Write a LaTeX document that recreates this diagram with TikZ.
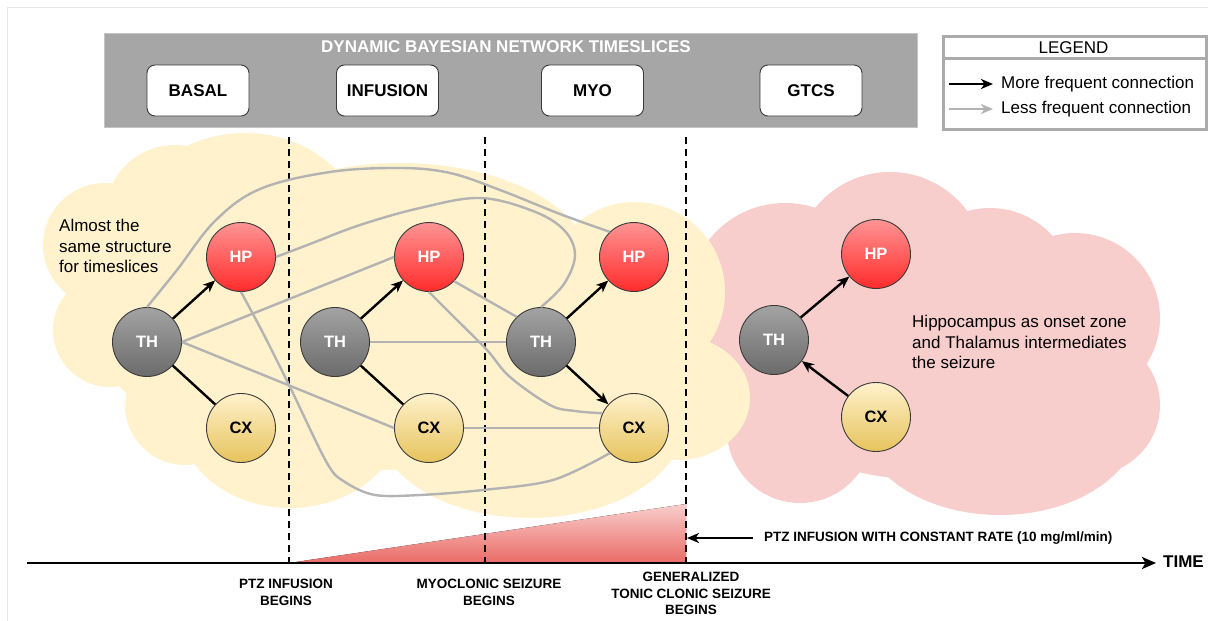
\documentclass[tikz,border=0pt]{standalone}
\usepackage{fontspec}
\setmainfont{Liberation Sans}
\usetikzlibrary{arrows.meta}

\definecolor{framegray}{HTML}{E6E6E6}
\definecolor{bannerfill}{HTML}{A6A6A6}
\definecolor{bannerline}{HTML}{C4C4C4}
\definecolor{legendline}{HTML}{ABABAB}
\definecolor{cloudyellow}{HTML}{FFF2CC}
\definecolor{cloudpink}{HTML}{F8CECC}
\definecolor{hptop}{HTML}{FF9494}
\definecolor{hpbot}{HTML}{FF2B2B}
\definecolor{thtop}{HTML}{A3A3A3}
\definecolor{thbot}{HTML}{6B6B6B}
\definecolor{cxtop}{HTML}{FFF2CC}
\definecolor{cxbot}{HTML}{E6C35C}
\definecolor{nodeline}{HTML}{3A3A3A}
\definecolor{weakgray}{HTML}{B3B3B3}
\definecolor{ramptop}{HTML}{F8CECC}
\definecolor{rampbot}{HTML}{EA6B66}

\begin{document}
\begin{tikzpicture}[x=1pt, y=-1pt,
  every node/.style={inner sep=0pt},
  brain/.style={circle, minimum size=69pt, inner sep=0pt, draw=nodeline, line width=0.9pt,
    font=\fontsize{16.5}{18}\selectfont\bfseries},
  hpnode/.style={brain, top color=hptop, bottom color=hpbot, text=white},
  thnode/.style={brain, top color=thtop, bottom color=thbot, text=white},
  cxnode/.style={brain, top color=cxtop, bottom color=cxbot, text=black},
  slicebox/.style={draw=nodeline, line width=0.9pt, fill=white, rounded corners=8pt,
    minimum width=102pt, minimum height=51pt, font=\fontsize{17}{20}\selectfont\bfseries},
  tip/.style={-{Stealth[length=12pt, width=10pt, inset=3.5pt]}},
  strongconn/.style={draw=black, line width=2.4pt},
  strongarrow/.style={strongconn, tip},
  weakconn/.style={draw=weakgray, line width=2.4pt, line join=round},
  phase/.style={draw=black, line width=2.5pt, dash pattern=on 7pt off 5pt},
  note/.style={align=left, font=\fontsize{17}{20.4}\selectfont},
  eventlbl/.style={align=center, font=\fontsize{13.5}{16.5}\selectfont\bfseries},
]
\useasboundingbox (0,0) rectangle (1208,621);

% page frame
\draw[framegray, line width=1pt] (1208,7) -- (7,7) -- (7,621);

% seizure-phase cloud (behind)
\fill[cloudpink]
  (785,300) circle[radius=97pt]
  (890,268) circle[radius=96pt]
  (990,292) circle[radius=84pt]
  (1075,318) circle[radius=85pt]
  (1090,405) circle[radius=70pt]
  (1000,420) ellipse[x radius=140pt, y radius=95pt]
  (800,430) circle[radius=73pt]
  (930,360) ellipse[x radius=200pt, y radius=120pt];

% pre-seizure cloud
\fill[cloudyellow]
  (105,245) circle[radius=62pt]
  (110,330) circle[radius=57pt]
  (185,405) circle[radius=60pt]
  (290,420) ellipse[x radius=110pt, y radius=88pt]
  (530,420) ellipse[x radius=155pt, y radius=98pt]
  (175,215) circle[radius=70pt]
  (245,228) ellipse[x radius=115pt, y radius=95pt]
  (400,265) ellipse[x radius=190pt, y radius=102pt]
  (635,292) circle[radius=90pt]
  (678,398) ellipse[x radius=72pt, y radius=62pt]
  (400,340) ellipse[x radius=300pt, y radius=130pt];

% timeslice banner
\node[fill=bannerfill, draw=bannerline, line width=1.2pt, minimum width=813pt,
      minimum height=94pt, anchor=north west] (banner) at (104,33) {};
\node[text=white, font=\fontsize{17}{20}\selectfont\bfseries] (bannertitle) at (506,47)
  {DYNAMIC BAYESIAN NETWORK TIMESLICES};
\node[slicebox] (basal) at (198,90.5) {BASAL};
\node[slicebox] (infusion) at (387.5,90.5) {INFUSION};
\node[slicebox] (myo) at (592.5,90.5) {MYO};
\node[slicebox] (gtcs) at (811,90.5) {GTCS};

% legend
\node[draw=legendline, line width=2.5pt, minimum width=263pt, minimum height=93pt,
      anchor=north west] (legend) at (942,35) {};
\draw[legendline, line width=2.5pt] (942,58.5) -- (1205,58.5);
\node[font=\fontsize{17}{20}\selectfont] (legendtitle) at (1073.5,47.5) {LEGEND};
\coordinate (lgmoreA) at (949,84);
\coordinate (lgmoreB) at (993,84);
\coordinate (lglessA) at (949,109);
\coordinate (lglessB) at (993,109);
\draw[strongarrow] (lgmoreA) -- (lgmoreB);
\draw[weakconn, tip] (lglessA) -- (lglessB);
\node[note, anchor=west] (lgmore) at (1001,84) {More frequent connection};
\node[note, anchor=west] (lgless) at (1001,109) {Less frequent connection};

% PTZ dose ramp
\fill[top color=ramptop, bottom color=rampbot] (289,563) -- (686,504) -- (686,563) -- cycle;

% phase boundaries
\coordinate (d1top) at (289,137); \coordinate (d1bot) at (289,563);
\coordinate (d2top) at (485,137); \coordinate (d2bot) at (485,563);
\coordinate (d3top) at (686,137); \coordinate (d3bot) at (686,563);
\draw[phase] (d1top) -- (d1bot);
\draw[phase] (d2top) -- (d2bot);
\draw[phase] (d3top) -- (d3bot);

% time axis
\coordinate (t0) at (27,563);
\coordinate (t1) at (1156,563);
\draw[line width=2.6pt, -{Stealth[length=14pt, width=12pt, inset=3.5pt]}] (t0) -- (t1);
\node[font=\fontsize{17}{20}\selectfont\bfseries, anchor=west] (timelbl) at (1163,562) {TIME};

\node[font=\fontsize{13.5}{16}\selectfont\bfseries, anchor=west] (rate) at (764,538)
  {PTZ INFUSION WITH CONSTANT RATE (10 mg/ml/min)};
\coordinate (rateend) at (687,538);
\draw[line width=2.4pt, -{Stealth[length=12pt, width=10pt, inset=3.5pt]}] ([xshift=-11pt]rate.west) -- (rateend);

\node[eventlbl] (ev1) at (286,592.5) {PTZ INFUSION\\BEGINS};
\node[eventlbl] (ev2) at (489,592.5) {MYOCLONIC SEIZURE\\BEGINS};
\node[eventlbl] (ev3) at (691,593.5) {GENERALIZED\\TONIC CLONIC SEIZURE\\BEGINS};

% annotations
\node[note, anchor=west] (basalnote) at (59,246) {Almost the\\same structure\\for timeslices};
\node[note, anchor=west] (gtcsnote) at (912,342) {Hippocampus as onset zone\\and Thalamus intermediates\\the seizure};

% brain regions per timeslice
\node[thnode] (th1) at (147,342) {TH};
\node[hpnode] (hp1) at (241,257) {HP};
\node[cxnode] (cx1) at (241,428) {CX};
\node[thnode] (th2) at (335,342) {TH};
\node[hpnode] (hp2) at (429,257) {HP};
\node[cxnode] (cx2) at (429,428) {CX};
\node[thnode] (th3) at (541,342) {TH};
\node[hpnode] (hp3) at (634,257) {HP};
\node[cxnode] (cx3) at (634,428) {CX};
\node[thnode] (th4) at (774,340) {TH};
\node[hpnode] (hp4) at (876,254) {HP};
\node[cxnode] (cx4) at (876,417) {CX};

% less frequent connections
\draw[weakconn] plot[smooth, tension=0.6] coordinates
  {(th1.north) (177,270) (215,221) (260,189) (330,172) (400,168) (450,173) (500,190) (560,214) (hp3.134)};
\draw[weakconn] plot[smooth, tension=0.6] coordinates
  {(hp1.east) (310,244) (360,225) (420,208) (480,198) (533,211) (564,230) (575,255) (564,284) (th3.north)};
\draw[weakconn] (th1.east) -- (hp2.west);
\draw[weakconn] (th1.east) -- (cx2.west);
\draw[weakconn] plot[smooth, tension=0.55] coordinates
  {(hp1.south) (263,333) (290,387) (327,463) (345,482) (375,495) (420,495) (483,490) (553,480) (cx3.226)};
\draw[weakconn] (hp2.316) -- (th3.134);
\draw[weakconn] plot[smooth, tension=0.6] coordinates
  {(hp2.south) (457,320) (487,350) (510,377) (550,405) (575,411) (cx3.155)};
\draw[weakconn] (th2.east) -- (th3.west);
\draw[weakconn] (cx2.east) -- (cx3.west);

% more frequent connections
\draw[strongarrow] (th1) -- (hp1);
\draw[strongconn] (th1) -- (cx1);
\draw[strongarrow] (th2) -- (hp2);
\draw[strongconn] (th2) -- (cx2);
\draw[strongarrow] (th3) -- (hp3);
\draw[strongarrow] (th3) -- (cx3);
\draw[strongarrow] (th4) -- (hp4);
\draw[strongarrow] (cx4) -- (th4);
\end{tikzpicture}
\end{document}
